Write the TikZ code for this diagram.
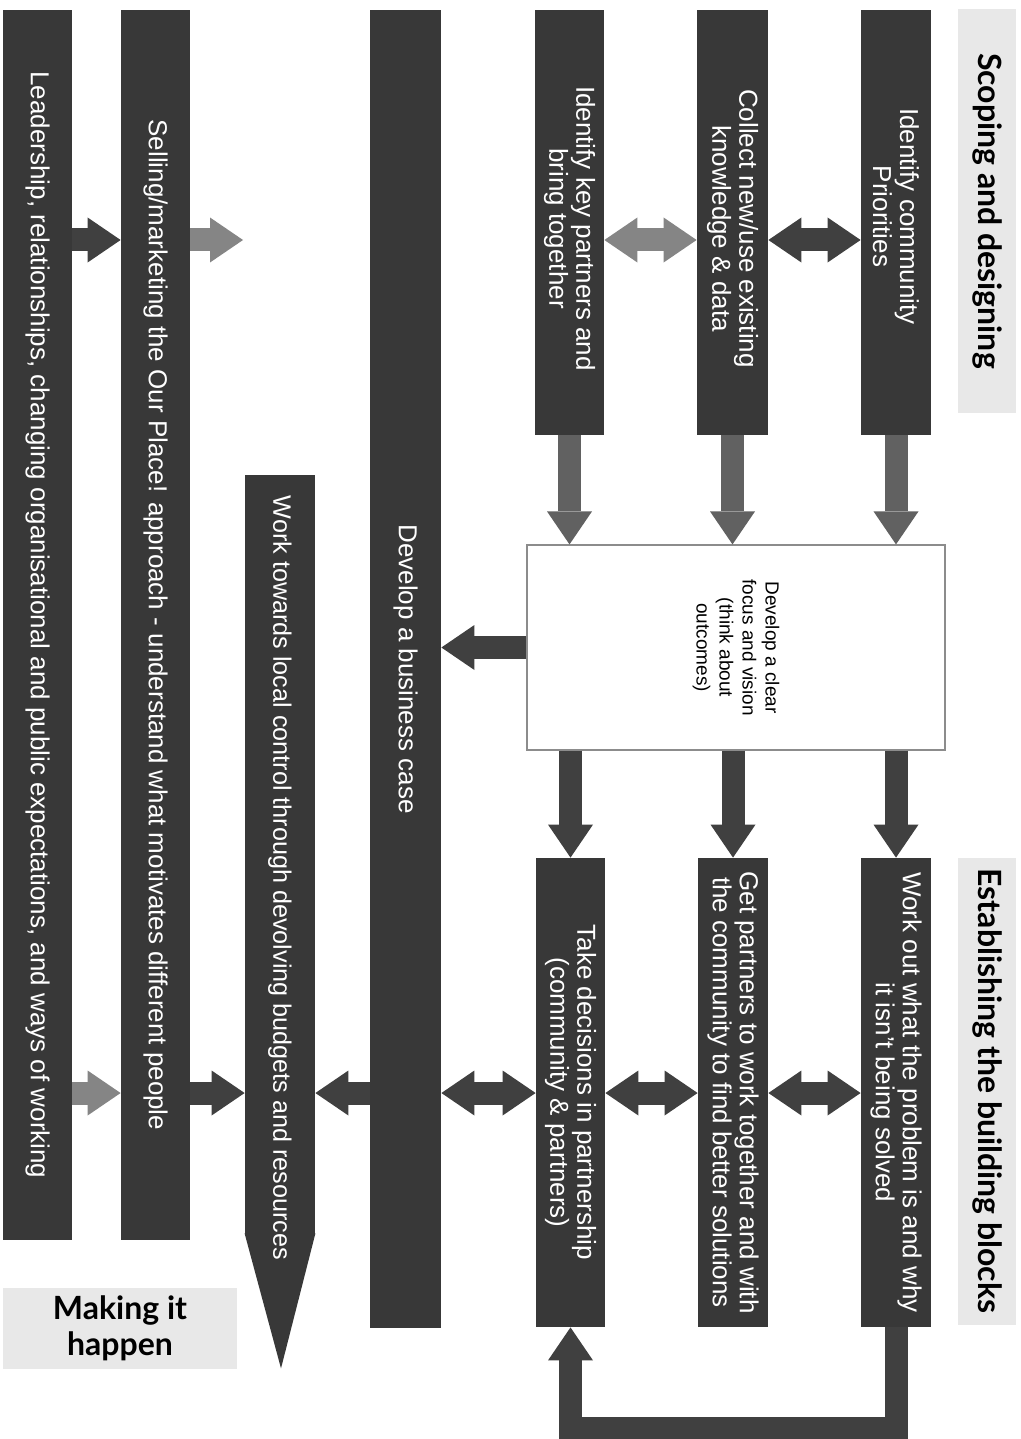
\documentclass[tikz,border=0pt]{standalone}
\usepackage{fontspec}
\setmainfont{Liberation Sans}
\newfontfamily\headfont{Lato}
\usetikzlibrary{arrows.meta,fit,positioning}
\tikzset{font=\fontsize{13}{13.5}\selectfont}
\tikzset{every node/.append style={transform shape=false}}
\tikzset{
  bar/.style={fill=black!78,draw=none,inner sep=0pt},
  bartext/.style={rotate=-90,text=white,align=center,inner sep=0pt},
  headbox/.style={fill=gray!18,align=center,inner sep=0pt,
    font=\headfont\bfseries\fontsize{16}{18}\selectfont},
  blocktip/.tip={Triangle[width=22.5pt,length=16.5pt,line width=0pt]},
  blk/.style={line width=11.5pt,draw=black!75,line join=miter,-{blocktip}},
  blkb/.style={line width=11.5pt,draw=black!75,{blocktip}-{blocktip}},
  lite/.style={draw=black!48},
  mid/.style={draw=black!62}
}

\begin{document}
\begin{tikzpicture}[x=0.5pt,y=-0.5pt]
  \useasboundingbox (0,0) rectangle (1021,1439);
  \fill[white] (0,0) rectangle (1021,1439);
  \coordinate (upper) at (0,240);
  \coordinate (lower) at (0,1093);

  % headings
  \node[headbox,rotate=-90,minimum width=201.5pt,minimum height=29pt]
    (scoping) at (987,211) {Scoping and designing};
  \node[headbox,rotate=-90,minimum width=233.5pt,minimum height=29pt]
    (establish) at (987,1091) {Establishing the building blocks};
  \node[headbox,minimum width=117pt,minimum height=40.5pt]
    (making) at (120,1328) {Making it\\happen};

  % long bars
  \node[bar,fit={(3,10) (72,1240)}] (lead) {};
  \node[bar,fit={(121,10) (190,1240)}] (sell) {};
  \node[bar,fit={(245,475) (315,1235)}] (work) {};
  \fill[black!78] ([yshift=1pt]work.south west) -- ([yshift=1pt]work.south east)
    -- ([xshift=0.5pt,yshift=-66.5pt]work.south) -- cycle;
  \node[bar,fit={(370,10) (441,1328)}] (biz) {};

  % top row
  \node[bar,fit={(535,10) (604,435)}] (partners) {};
  \node[bar,fit={(697,10) (768,435)}] (collect) {};
  \node[bar,fit={(861,10) (931,435)}] (community) {};
  \node[draw=black!45,line width=0.6pt,fill=white,inner sep=0pt,
    fit={(527,545) (945,750)}] (focus) {};

  % bottom row
  \node[bar,fit={(536,858) (605,1327)}] (decide) {};
  \node[bar,fit={(698,858) (768,1327)}] (getp) {};
  \node[bar,fit={(861,858) (931,1327)}] (workout) {};

  % texts
  \node[bartext] (lead-t) at (lead.center)
    {Leadership, relationships, changing organisational and public expectations, and ways of working};
  \node[bartext] (sell-t) at (sell.center)
    {Selling/marketing the Our Place! approach - understand what motivates different people};
  \node[bartext,font=\fontsize{12.6}{13}\selectfont] (work-t) at ([yshift=-11.5pt]work.center)
    {Work towards local control through devolving budgets and resources};
  \node[bartext] (biz-t) at (biz.center) {Develop a business case};
  \node[bartext] (partners-t) at ([yshift=-3pt]partners.center)
    {Identify key partners and\\bring together};
  \node[bartext] (collect-t) at ([yshift=-3pt]collect.center)
    {Collect new/use existing\\knowledge \& data};
  \node[bartext] (community-t) at ([yshift=3pt]community.center)
    {Identify community\\Priorities};
  \node[rotate=-90,align=center,font=\fontsize{9.5}{11.5}\selectfont]
    (focus-t) at (focus.center)
    {Develop a clear\\focus and vision\\(think about\\outcomes)};
  \node[bartext] (decide-t) at (decide.center)
    {Take decisions in partnership\\(community \& partners)};
  \node[bartext] (getp-t) at (getp.center)
    {Get partners to work together and with\\the community to find better solutions};
  \node[bartext] (workout-t) at (workout.center)
    {Work out what the problem is and why\\it isn't being solved};

  % arrows, upper level
  \draw[blk] (lead.east |- upper) -- (sell.west |- upper);
  \coordinate (sellgap) at (243,240);
  \draw[blk,lite] (sell.east |- upper) -- (sellgap);
  \draw[blkb,lite] (partners.east |- upper) -- (collect.west |- upper);
  \draw[blkb] (collect.east |- upper) -- (community.west |- upper);

  % into and out of the focus box
  \foreach \n in {partners,collect,community}
    \draw[blk,mid] (\n.south) -- (\n.south |- focus.north);
  \foreach \n in {decide,getp,workout}
    \draw[blk] (\n.north |- focus.south) -- (\n.north);
  \draw[blk] (focus.west) -- (biz.east |- focus.west);

  % arrows, lower level
  \draw[blk,lite] (lead.east |- lower) -- (sell.west |- lower);
  \draw[blk] (sell.east |- lower) -- (work.west |- lower);
  \draw[blk] (biz.west |- lower) -- (work.east |- lower);
  \draw[blkb] (biz.east |- lower) -- (decide.west |- lower);
  \draw[blkb] (decide.east |- lower) -- (getp.west |- lower);
  \draw[blkb] (getp.east |- lower) -- (workout.west |- lower);

  % loop back
  \draw[blk] (workout.south) -- ++(0,101) -| (decide.south);
\end{tikzpicture}
\end{document}
